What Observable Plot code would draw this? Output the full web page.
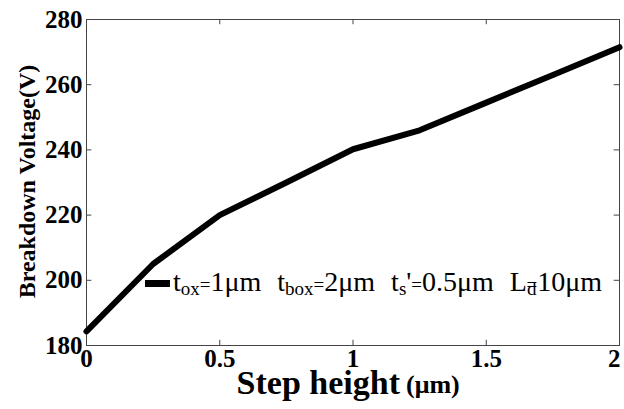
<!DOCTYPE html>
<html>
<head>
<meta charset="utf-8">
<script src="https://cdn.jsdelivr.net/npm/d3@7"></script>
<script src="https://cdn.jsdelivr.net/npm/@observablehq/plot@0.6"></script>
<style>
  html, body { margin: 0; padding: 0; background: #fff; }
  #wrap { position: relative; width: 624px; height: 409px; overflow: hidden; }
  #legend { position: absolute; left: 145px; top: 268px; font-family: "Liberation Serif", "Times New Roman", serif; font-size: 28px; line-height: 1; white-space: nowrap; color: #000; }
  #legend .swatch { display: inline-block; width: 25px; height: 7px; background: #000; vertical-align: 4px; margin-right: 3px; }
  #legend sub { font-size: 19px; vertical-align: -4px; line-height: 0; }
  #legend .eq { font-size: 19px; }
  #legend .gap { display: inline-block; width: 16px; }
</style>
</head>
<body>
<div id="wrap"></div>
<script>
// Data
const stepHeight = [0, 0.25, 0.5, 0.75, 1.0, 1.25, 1.5, 1.75, 2.0];
const breakdownV = [184.3, 205, 220, 230, 240.2, 246, 254.5, 263, 271.5];
const xTicks = [0, 0.5, 1, 1.5, 2];
const yTicks = [180, 200, 220, 240, 260, 280];
const xLabel = "Step height";
const xUnit = "(\u03bcm)";
const yLabel = "Breakdown Voltage(V)";

const data = stepHeight.map((x, i) => ({x, y: breakdownV[i]}));
const innerX = xTicks.slice(1, -1);
const innerY = yTicks.slice(1, -1);
const lastX = xTicks.slice(-1);
const firstX = xTicks.slice(0, -1);

const plot = Plot.plot({
  width: 624,
  height: 409,
  marginLeft: 86,
  marginRight: 5,
  marginTop: 19,
  marginBottom: 64,
  style: {fontFamily: "Liberation Serif", fontSize: "25px", fontWeight: "bold", color: "#000", background: "#fff"},
  x: {domain: [0, 2]},
  y: {domain: [180, 280]},
  marks: [
    Plot.frame({stroke: "#444", strokeWidth: 1}),
    Plot.ruleX(innerX, {x: d => d, y1: 180, y2: 181.6, stroke: "#444"}),
    Plot.ruleX(innerX, {x: d => d, y1: 280, y2: 278.4, stroke: "#444"}),
    Plot.ruleY(innerY, {y: d => d, x1: 0, x2: 0.02, stroke: "#444"}),
    Plot.ruleY(innerY, {y: d => d, x1: 2, x2: 1.98, stroke: "#444"}),
    Plot.axisX({ticks: firstX, tickSize: 0, tickPadding: 4, label: null, tickFormat: d => String(d)}),
    Plot.axisX({ticks: lastX, tickSize: 0, tickPadding: 4, label: null, textAnchor: "end", dx: 1, tickFormat: d => String(d)}),
    Plot.axisY({ticks: yTicks, tickSize: 0, tickPadding: 4, label: null, tickFormat: d => String(d)}),
    Plot.line(data, {x: "x", y: "y", stroke: "#000", strokeWidth: 6}),
    Plot.text([xLabel], {frameAnchor: "bottom", dy: 48, dx: 47, textAnchor: "end", lineAnchor: "bottom", fontSize: 34, fontWeight: "bold"}),
    Plot.text([xUnit], {frameAnchor: "bottom", dy: 47, dx: 53, textAnchor: "start", lineAnchor: "bottom", fontSize: 26, fontWeight: "bold"}),
    Plot.text([yLabel], {frameAnchor: "left", dx: -59, dy: -1, rotate: -90, textAnchor: "middle", lineAnchor: "middle", fontSize: 24, fontWeight: "bold"})
  ]
});

const wrap = document.getElementById("wrap");
wrap.appendChild(plot);

const legend = document.createElement("div");
legend.id = "legend";
legend.style.fontFamily = '"Liberation Serif", "Times New Roman", serif';
legend.innerHTML =
  '<span class="swatch"></span>' +
  't<sub>ox</sub><span class="eq">=</span>1\u03bcm<span class="gap"></span>' +
  't<sub>box</sub><span class="eq">=</span>2\u03bcm<span class="gap"></span>' +
  't<sub>s</sub>\'<span class="eq">=</span>0.5\u03bcm<span class="gap"></span>' +
  'L<sub>d</sub><span class="eq" style="margin-left:-10px">=</span>10\u03bcm';
wrap.appendChild(legend);
</script>
</body>
</html>
